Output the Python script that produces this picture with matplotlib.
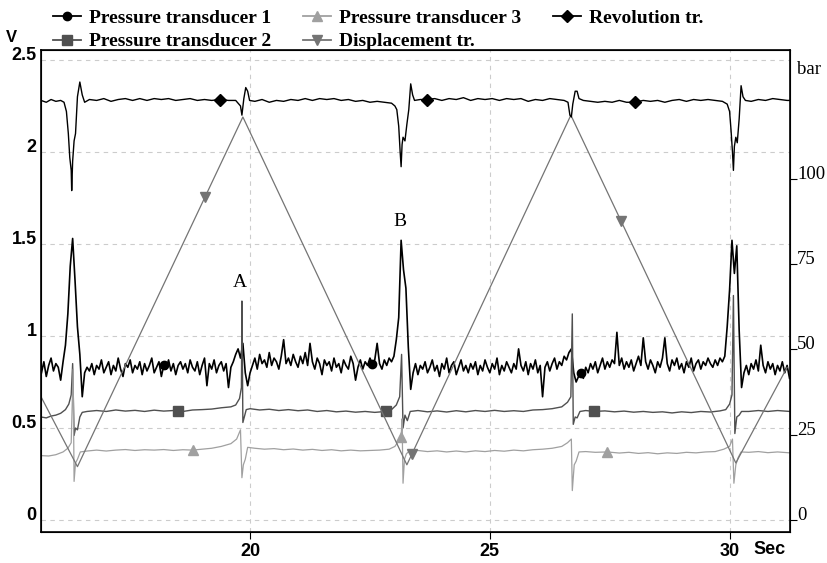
import numpy as np
import matplotlib.pyplot as plt
from matplotlib.lines import Line2D

# pressure transducer 1, sampled every 0.05 s from 15.65 s
pt1_start = 15.65
pt1_step = 0.05
pt1_v = [
    0.80, 0.86, 0.78, 0.84, 0.88, 0.81, 0.85, 0.83, 0.76, 0.86, 0.95, 1.12, 1.38, 1.53, 1.30, 1.05, 0.90, 0.67, 0.80, 0.83,
    0.81, 0.85, 0.79, 0.84, 0.82, 0.87, 0.80, 0.83, 0.86, 0.79, 0.84, 0.81, 0.88, 0.82, 0.78, 0.85, 0.83, 0.87, 0.80, 0.84,
    0.82, 0.86, 0.79, 0.85, 0.81, 0.84, 0.88, 0.80, 0.83, 0.86, 0.78, 0.84, 0.82, 0.87, 0.81, 0.85, 0.79, 0.84, 0.86, 0.82,
    0.85, 0.80, 0.87, 0.83, 0.81, 0.86, 0.79, 0.84, 0.88, 0.73, 0.85, 0.82, 0.87, 0.80, 0.84, 0.86, 0.81, 0.85, 0.72, 0.83,
    0.86, 0.90, 0.93, 0.88, 0.96, 0.80, 0.73, 0.80, 0.84, 0.88, 0.82, 0.90, 0.85, 0.87, 0.83, 0.91, 0.84, 0.88, 0.86, 0.82,
    0.89, 0.98, 0.85, 0.88, 0.84, 0.90, 0.86, 0.83, 0.89, 0.85, 0.91, 0.84, 0.96, 0.86, 0.82, 0.88, 0.85, 0.79, 0.87, 0.84,
    0.86, 0.81, 0.88, 0.83, 0.85, 0.80, 0.87, 0.84, 0.82, 0.89, 0.85, 0.76, 0.83, 0.87, 0.82, 0.86, 0.84, 0.88, 0.85, 0.87,
    0.96, 0.85, 0.82, 0.87, 0.84, 0.88, 0.86, 0.89, 0.98, 1.10, 1.52, 1.36, 1.26, 0.94, 0.71, 0.80, 0.85, 0.79, 0.84, 0.82,
    0.86, 0.80, 0.83, 0.87, 0.81, 0.84, 0.78, 0.85, 0.82, 0.88, 0.80, 0.84, 0.86, 0.79, 0.83, 0.87, 0.81, 0.84, 0.80, 0.85,
    0.82, 0.86, 0.79, 0.84, 0.81, 0.87, 0.83, 0.80, 0.85, 0.82, 0.88, 0.79, 0.84, 0.81, 0.86, 0.83, 0.80, 0.85, 0.82, 0.93,
    0.84, 0.81, 0.86, 0.79, 0.85, 0.82, 0.87, 0.80, 0.84, 0.67, 0.83, 0.86, 0.81, 0.85, 0.88, 0.82, 0.86, 0.84, 0.89, 0.87,
    0.91, 0.93, 0.80, 0.75, 0.78, 0.80, 0.77, 0.83, 0.80, 0.85, 0.82, 0.86, 0.80, 0.84, 0.88, 0.82, 0.86, 0.83, 0.87, 0.85,
    1.02, 0.84, 0.88, 0.82, 0.86, 0.83, 0.87, 0.81, 0.85, 0.89, 0.84, 0.99, 0.86, 0.82, 0.87, 0.84, 0.80, 0.86, 0.83, 0.88,
    0.99, 0.85, 0.81, 0.87, 0.84, 0.88, 0.82, 0.85, 0.80, 0.86, 0.83, 0.88, 0.81, 0.85, 0.87, 0.82, 0.86, 0.84, 0.88, 0.85,
    0.83, 0.87, 0.84, 0.88, 0.86, 0.89, 1.05, 1.25, 1.52, 1.34, 1.49, 1.03, 0.72, 0.80, 0.84, 0.79, 0.85, 0.82, 0.87, 0.81,
    0.95, 0.84, 0.80, 0.86, 0.82, 0.85, 0.79, 0.84, 0.81, 0.86, 0.80, 0.84, 0.77,
]

pt2_t = [15.64, 15.75, 15.85, 15.95, 16.05, 16.15, 16.22, 16.27, 16.30, 16.33, 16.36, 16.40, 16.45, 16.50,
         16.60, 16.80, 17.00, 17.20, 17.40, 17.60, 17.80, 18.00, 18.20, 18.40, 18.60, 18.80, 19.00, 19.20,
         19.40, 19.60, 19.70, 19.78, 19.82, 19.83, 19.85, 19.88, 19.92, 20.00, 20.20, 20.40, 20.60, 20.80,
         21.00, 21.20, 21.40, 21.60, 21.80, 22.00, 22.20, 22.40, 22.60, 22.83, 22.95, 23.05, 23.12, 23.16,
         23.19, 23.23, 23.28, 23.34, 23.50, 23.70, 23.90, 24.10, 24.30, 24.50, 24.70, 24.90, 25.10, 25.30,
         25.50, 25.70, 25.90, 26.10, 26.30, 26.50, 26.62, 26.69, 26.72, 26.74, 26.78, 26.82, 26.88, 27.00,
         27.17, 27.40, 27.60, 27.80, 28.00, 28.20, 28.40, 28.60, 28.80, 29.00, 29.20, 29.40, 29.60, 29.80,
         29.92, 30.00, 30.05, 30.08, 30.11, 30.15, 30.20, 30.25, 30.40, 30.60, 30.80, 31.00, 31.26]
pt2_v = [0.56, 0.555, 0.565, 0.57, 0.58, 0.60, 0.63, 0.68, 0.85, 0.46, 0.50, 0.49, 0.56, 0.585,
         0.59, 0.595, 0.59, 0.598, 0.592, 0.596, 0.59, 0.597, 0.592, 0.595, 0.59, 0.598, 0.60, 0.603,
         0.61, 0.615, 0.625, 0.66, 0.72, 1.19, 0.53, 0.56, 0.60, 0.605, 0.598, 0.602, 0.595, 0.60,
         0.594, 0.598, 0.59, 0.595, 0.588, 0.592, 0.586, 0.59, 0.585, 0.59, 0.60, 0.625, 0.67, 0.90,
         0.50, 0.57, 0.54, 0.59, 0.595, 0.588, 0.593, 0.587, 0.594, 0.588, 0.595, 0.59, 0.596, 0.59,
         0.594, 0.59, 0.598, 0.60, 0.605, 0.615, 0.64, 0.67, 1.12, 0.52, 0.56, 0.555, 0.59, 0.595,
         0.59, 0.593, 0.588, 0.592, 0.586, 0.59, 0.585, 0.588, 0.582, 0.588, 0.584, 0.59, 0.587, 0.593,
         0.60, 0.63, 0.68, 1.22, 0.47, 0.56, 0.57, 0.59, 0.59, 0.595, 0.59, 0.595, 0.59]

pt3_t = [15.64, 15.80, 15.95, 16.10, 16.20, 16.27, 16.31, 16.33, 16.36, 16.40, 16.46, 16.60, 16.80, 17.00,
         17.20, 17.40, 17.60, 17.80, 18.00, 18.20, 18.40, 18.60, 18.80, 19.00, 19.20, 19.40, 19.60, 19.72,
         19.80, 19.83, 19.86, 19.90, 19.95, 20.10, 20.30, 20.50, 20.70, 20.90, 21.10, 21.30, 21.50, 21.70,
         21.90, 22.10, 22.30, 22.50, 22.70, 22.90, 23.02, 23.10, 23.15, 23.17, 23.19, 23.22, 23.26, 23.32,
         23.50, 23.70, 23.90, 24.10, 24.30, 24.50, 24.70, 24.90, 25.10, 25.30, 25.50, 25.70, 25.90, 26.10,
         26.30, 26.50, 26.62, 26.70, 26.72, 26.76, 26.80, 26.86, 27.00, 27.20, 27.45, 27.70, 27.90, 28.10,
         28.30, 28.50, 28.70, 28.90, 29.10, 29.30, 29.50, 29.70, 29.88, 30.00, 30.06, 30.09, 30.13, 30.18,
         30.24, 30.40, 30.60, 30.80, 31.00, 31.26]
pt3_v = [0.35, 0.348, 0.355, 0.37, 0.39, 0.42, 0.82, 0.21, 0.31, 0.33, 0.37, 0.375, 0.38, 0.375,
         0.38, 0.383, 0.378, 0.382, 0.38, 0.383, 0.378, 0.382, 0.38, 0.385, 0.39, 0.40, 0.415, 0.44,
         0.49, 0.23, 0.30, 0.33, 0.395, 0.39, 0.385, 0.388, 0.382, 0.386, 0.38, 0.384, 0.378, 0.382,
         0.376, 0.38, 0.376, 0.378, 0.38, 0.385, 0.40, 0.43, 0.45, 0.55, 0.20, 0.33, 0.36, 0.375,
         0.378, 0.372, 0.376, 0.37, 0.375, 0.37, 0.376, 0.372, 0.378, 0.374, 0.38, 0.376, 0.382, 0.385,
         0.39, 0.40, 0.42, 0.44, 0.16, 0.30, 0.32, 0.37, 0.372, 0.368, 0.37, 0.364, 0.368, 0.362,
         0.366, 0.36, 0.365, 0.362, 0.368, 0.365, 0.37, 0.372, 0.385, 0.40, 0.44, 0.20, 0.30, 0.34,
         0.37, 0.368, 0.372, 0.366, 0.37, 0.365]

disp_t = [15.64, 16.40, 19.85, 23.27, 26.69, 30.13, 31.20]
disp_v = [0.67, 0.29, 2.19, 0.30, 2.20, 0.31, 0.83]

rev_t = [15.64, 15.75, 15.85, 15.95, 16.05, 16.12, 16.17, 16.21, 16.24, 16.27, 16.28, 16.30, 16.33, 16.36,
         16.40, 16.45, 16.50, 16.55, 16.65, 16.80, 16.95, 17.10, 17.25, 17.40, 17.55, 17.70, 17.85, 18.00,
         18.15, 18.30, 18.45, 18.60, 18.75, 18.90, 19.05, 19.20, 19.38, 19.55, 19.70, 19.80, 19.83, 19.87,
         19.91, 19.95, 19.99, 20.10, 20.25, 20.40, 20.55, 20.70, 20.85, 21.00, 21.15, 21.30, 21.45, 21.60,
         21.75, 21.90, 22.05, 22.20, 22.35, 22.50, 22.65, 22.80, 22.95, 23.02, 23.06, 23.10, 23.13, 23.15,
         23.17, 23.19, 23.23, 23.27, 23.31, 23.35, 23.39, 23.43, 23.55, 23.69, 23.85, 24.00, 24.15, 24.30,
         24.45, 24.60, 24.75, 24.90, 25.05, 25.20, 25.35, 25.50, 25.65, 25.80, 25.95, 26.10, 26.25, 26.40,
         26.55, 26.63, 26.67, 26.70, 26.73, 26.78, 26.82, 26.86, 26.95, 27.10, 27.25, 27.40, 27.55, 27.70,
         27.85, 28.02, 28.20, 28.35, 28.50, 28.65, 28.80, 28.95, 29.10, 29.25, 29.40, 29.55, 29.70, 29.85,
         29.95, 30.00, 30.03, 30.06, 30.08, 30.10, 30.13, 30.16, 30.20, 30.24, 30.28, 30.33, 30.45, 30.60,
         30.75, 30.90, 31.05, 31.20, 31.26]
rev_v = [2.28, 2.27, 2.285, 2.275, 2.28, 2.27, 2.22, 2.10, 1.97, 1.90, 1.79, 1.95, 2.06, 2.10,
         2.30, 2.38, 2.31, 2.27, 2.285, 2.28, 2.29, 2.275, 2.285, 2.29, 2.28, 2.29, 2.28, 2.29,
         2.285, 2.29, 2.28, 2.285, 2.29, 2.28, 2.285, 2.28, 2.285, 2.28, 2.28, 2.25, 2.20, 2.29,
         2.35, 2.33, 2.28, 2.275, 2.285, 2.27, 2.28, 2.275, 2.285, 2.28, 2.29, 2.28, 2.29, 2.285,
         2.29, 2.28, 2.285, 2.275, 2.28, 2.27, 2.275, 2.27, 2.265, 2.25, 2.23, 2.14, 2.00, 1.92,
         2.04, 2.08, 2.06, 2.15, 2.23, 2.37, 2.31, 2.28, 2.285, 2.285, 2.29, 2.28, 2.29, 2.285,
         2.295, 2.28, 2.29, 2.285, 2.29, 2.28, 2.29, 2.285, 2.29, 2.275, 2.285, 2.28, 2.29, 2.285,
         2.28, 2.27, 2.20, 2.19, 2.26, 2.33, 2.33, 2.29, 2.28, 2.275, 2.27, 2.275, 2.27, 2.28,
         2.27, 2.27, 2.28, 2.275, 2.28, 2.27, 2.28, 2.285, 2.275, 2.285, 2.28, 2.285, 2.28, 2.275,
         2.26, 2.22, 2.12, 2.00, 1.90, 2.03, 2.08, 2.05, 2.18, 2.36, 2.30, 2.28, 2.275, 2.285,
         2.28, 2.29, 2.285, 2.28, 2.28]

# marker positions (s) along each trace
pt1_mk = [18.20, 22.55, 26.90]
pt2_mk = [18.50, 22.83, 27.17]
pt3_mk = [18.80, 23.15, 27.45]
disp_mk = [19.06, 23.38, 27.74]
rev_mk = [19.38, 23.69, 28.02]

labels = ["Pressure transducer 1", "Pressure transducer 2", "Pressure transducer 3",
          "Displacement tr.", "Revolution tr."]

pt1_t = pt1_start + pt1_step * np.arange(len(pt1_v))

SERIF = ['Liberation Serif', 'DejaVu Serif']
NARROW = ['Liberation Sans Narrow', 'Liberation Sans', 'DejaVu Sans']

fig = plt.figure(figsize=(8.28, 5.63), dpi=100)
ax = fig.add_axes([41/828, 1 - 532/563, (790 - 41)/828, (532 - 50)/563])

styles = [
    (pt1_t, pt1_v, pt1_mk, '#000000', 'o', 1.2, 6),
    (pt2_t, pt2_v, pt2_mk, '#505050', 's', 1.0, 7),
    (pt3_t, pt3_v, pt3_mk, '#a0a0a0', '^', 0.9, 7),
    (disp_t, disp_v, disp_mk, '#747474', 'v', 0.9, 7),
    (rev_t, rev_v, rev_mk, '#000000', 'D', 1.0, 6),
]
handles = []
for t, v, mk, col, m, lw, ms in styles:
    ax.plot(t, v, color=col, lw=lw)
    ax.plot(mk, np.interp(mk, t, v), ls='none', marker=m, color=col, ms=ms)
    handles.append(Line2D([], [], color=col, lw=1.3, marker=m, ms=ms))

ax.set_xlim(15.64, 31.26)
ax.set_ylim(-0.065, 2.554)
ax.set_xticks([20, 25, 30])
ax.set_yticks([0, 0.5, 1, 1.5, 2, 2.5])
ax.set_yticklabels(['0', '0.5', '1', '1.5', '2', '2.5'])
ax.grid(True, ls=(0, (4, 4)), color='#cccccc', lw=0.8)
ax.tick_params(axis='y', length=0, pad=3)
ax.tick_params(axis='x', length=5, pad=3, direction='out')
for lab in ax.get_yticklabels():
    lab.set_fontfamily(NARROW)
    lab.set_fontweight('bold')
    lab.set_fontsize(13)
    lab.set_va('baseline')
for lab in ax.get_xticklabels():
    lab.set_fontfamily(NARROW)
    lab.set_fontweight('bold')
    lab.set_fontsize(13)
for s in ax.spines.values():
    s.set_linewidth(1.2)

ax2 = ax.twinx()
ax2.set_ylim(-0.065 * 53.9, 2.554 * 53.9)
ax2.set_yticks([0, 25, 50, 75, 100])
ax2.tick_params(axis='y', length=5, pad=0, direction='out')
for lab in ax2.get_yticklabels():
    lab.set_fontfamily(SERIF)
    lab.set_fontsize(13.5)
    lab.set_va('baseline')

ax.text(19.79, 1.29, 'A', fontfamily=SERIF, fontsize=14, ha='center', va='center')
ax.text(23.12, 1.62, 'B', fontfamily=SERIF, fontsize=14, ha='center', va='center')

fig.text(797/828, 1 - 69/563, 'bar', fontfamily=SERIF, fontsize=13.5, va='center', ha='left')
fig.text(11/828, 1 - 38/563, 'V', fontfamily=NARROW, fontweight='bold', fontsize=12,
         va='center', ha='center')
fig.text(770/828, 1 - 549/563, 'Sec', fontfamily=NARROW, fontweight='bold', fontsize=13,
         va='center', ha='center')

# one legend per column so the columns sit where the original has them
legend_cols = [([0, 1], 53), ([2, 3], 303), ([4], 553)]
for idx, xpix in legend_cols:
    lg = fig.legend([handles[i] for i in idx], [labels[i] for i in idx], loc='upper left',
                    bbox_to_anchor=(xpix/828, 1 - 9/563), ncol=1, frameon=False,
                    borderpad=0, borderaxespad=0, handlelength=1.45, handletextpad=0.4,
                    labelspacing=0.32, prop={'family': SERIF, 'weight': 'bold', 'size': 14})

fig.savefig('out.png', dpi=100)
